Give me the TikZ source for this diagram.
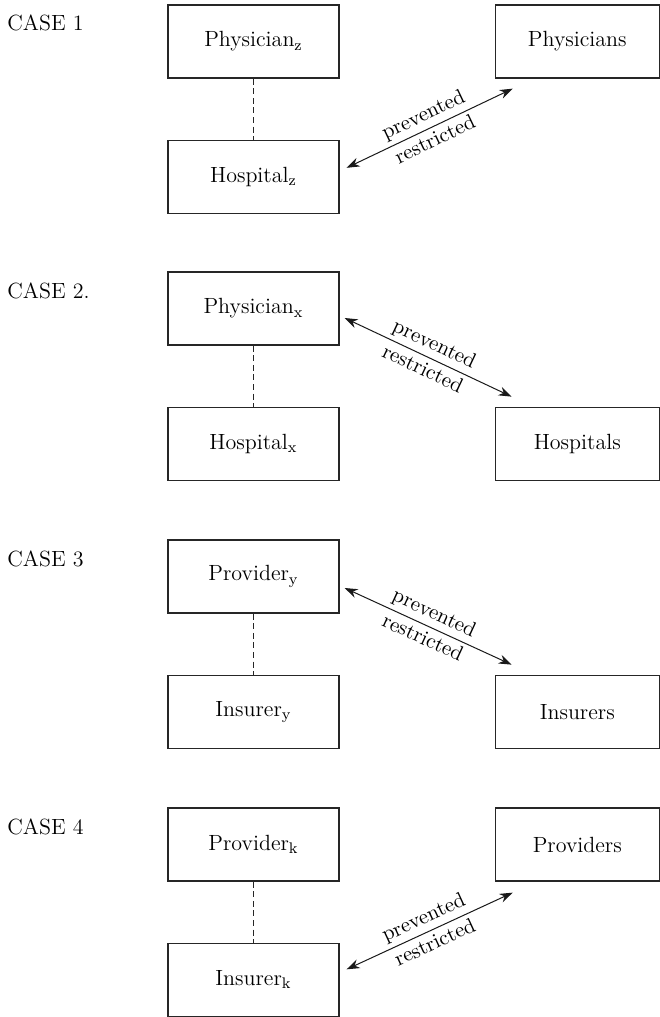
\documentclass[tikz,border=0pt]{standalone}
\usepackage{tikz}
\usetikzlibrary{positioning,calc,arrows.meta}

\tikzset{
	entity/.style={draw=black!85,line width=0.65pt,minimum height=36.5pt,minimum width=85.5pt,inner sep=0pt},
	market/.style={draw=black!85,line width=0.65pt,minimum height=36.5pt,minimum width=82pt,inner sep=0pt},
	caselbl/.style={anchor=base west,inner sep=0pt},
	tie/.style={draw=black!85,line width=0.5pt,dash pattern=on 3pt off 1.8pt},
	bar/.style={draw=black!90,line width=0.5pt,{Stealth[length=6.5pt,width=4.6pt]}-{Stealth[length=6.5pt,width=4.6pt]}},
	tag/.style={sloped,font=\fontsize{10.5}{12}\selectfont,inner sep=2pt}
}

\begin{document}
\begin{tikzpicture}[x=0.5pt,y=-0.5pt,font=\fontsize{11}{13}\selectfont]
		\useasboundingbox (0,1) rectangle (659,1018);
		
		% case 1
		\node[caselbl] (c1) at (7,32) {CASE 1};
		\node[entity] (pz) at (253.5,42.5) {Physician\textsubscript{z}};
		\node[entity,below=30.5pt of pz] (hz) {Hospital\textsubscript{z}};
		\node[market,right=77.5pt of pz] (phs) {Physicians};
		\draw[tie] (pz.south)--(hz.north);
		\draw[bar] ([shift={(7,-9)}]hz.east)--([shift={(18,10)}]phs.south west)
			node[tag,midway,above] {prevented} node[tag,midway,below] {restricted};
		
		% case 2
		\node[caselbl] (c2) at (7,299) {CASE 2.};
		\node[entity] (px) at (253.5,309.5) {Physician\textsubscript{x}};
		\node[entity,below=30.5pt of px] (hx) {Hospital\textsubscript{x}};
		\node[market,right=77.5pt of hx] (hos) {Hospitals};
		\draw[tie] (px.south)--(hx.north);
		\draw[bar] ([shift={(5,9.5)}]px.east)--([shift={(17,-10)}]hos.north west)
			node[tag,midway,above] {prevented} node[tag,midway,below] {restricted};
		
		% case 3
		\node[caselbl] (c3) at (7,567) {CASE 3};
		\node[entity] (py) at (253.5,577.5) {Provider\textsubscript{y}};
		\node[entity,below=30.5pt of py] (iy) {Insurer\textsubscript{y}};
		\node[market,right=77.5pt of iy] (ins) {Insurers};
		\draw[tie] (py.south)--(iy.north);
		\draw[bar] ([shift={(5,11.5)}]py.east)--([shift={(17,-10)}]ins.north west)
			node[tag,midway,above] {prevented} node[tag,midway,below] {restricted};
		
		% case 4
		\node[caselbl] (c4) at (7,835) {CASE 4};
		\node[entity] (pk) at (253.5,845.5) {Provider\textsubscript{k}};
		\node[entity,below=30.5pt of pk] (ik) {Insurer\textsubscript{k}};
		\node[market,right=77.5pt of pk] (prs) {Providers};
		\draw[tie] (pk.south)--(ik.north);
		\draw[bar] ([shift={(7,-10.5)}]ik.east)--([shift={(18,11)}]prs.south west)
			node[tag,midway,above] {prevented} node[tag,midway,below] {restricted};
	\end{tikzpicture}
\end{document}
